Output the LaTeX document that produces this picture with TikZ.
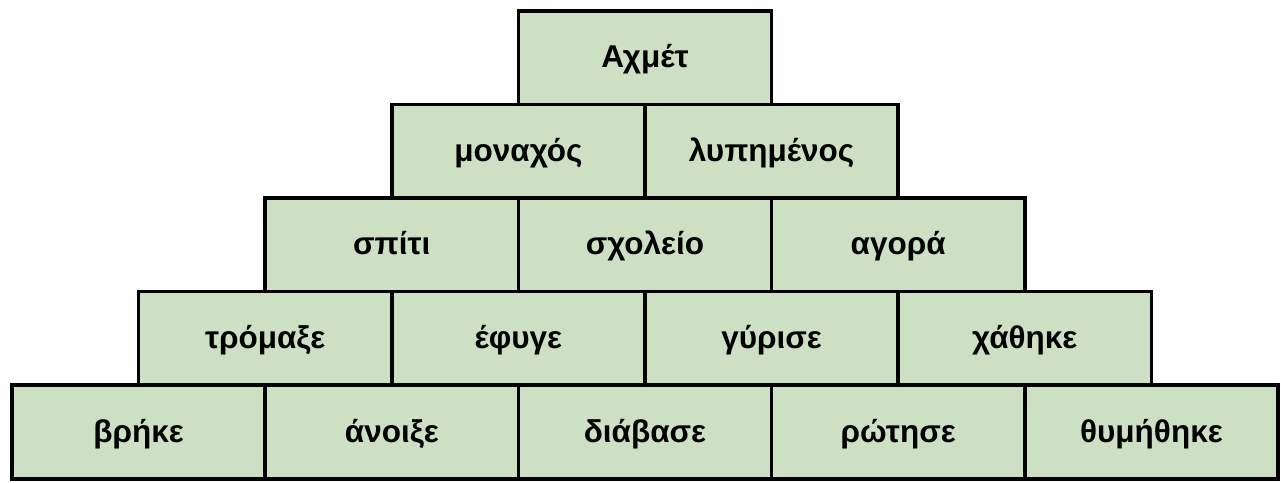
\documentclass[tikz,border=0pt]{standalone}
\usepackage{fontspec}
\setmainfont{Liberation Sans}
\definecolor{brickfill}{RGB}{206,224,195}
\begin{document}
\begin{tikzpicture}[x=1pt,y=-1pt,
  brick/.style={draw=black, fill=brickfill, line width=3.6pt, rectangle,
    minimum width=253.2pt, minimum height=93.6pt, inner sep=0pt,
    text height=24pt, text depth=4pt,
    font=\fontsize{31.5}{34}\selectfont\bfseries}]
\useasboundingbox (0,0) rectangle (1281,482);
% row 5
\node[brick] (b1) at (138.6,432) {βρήκε};
\node[brick] (b2) at (391.8,432) {άνοιξε};
\node[brick] (b3) at (645,432) {διάβασε};
\node[brick] (b4) at (898.2,432) {ρώτησε};
\node[brick] (b5) at (1151.4,432) {θυμήθηκε};
% row 4
\node[brick] (c1) at (265.2,338.4) {τρόμαξε};
\node[brick] (c2) at (518.4,338.4) {έφυγε};
\node[brick] (c3) at (771.6,338.4) {γύρισε};
\node[brick] (c4) at (1024.8,338.4) {χάθηκε};
% row 3
\node[brick] (d1) at (391.8,244.8) {σπίτι};
\node[brick] (d2) at (645,244.8) {σχολείο};
\node[brick] (d3) at (898.2,244.8) {αγορά};
% row 2
\node[brick] (e1) at (518.4,151.2) {μοναχός};
\node[brick] (e2) at (771.6,151.2) {λυπημένος};
% row 1
\node[brick] (f1) at (645,57.6) {Αχμέτ};
\end{tikzpicture}
\end{document}
